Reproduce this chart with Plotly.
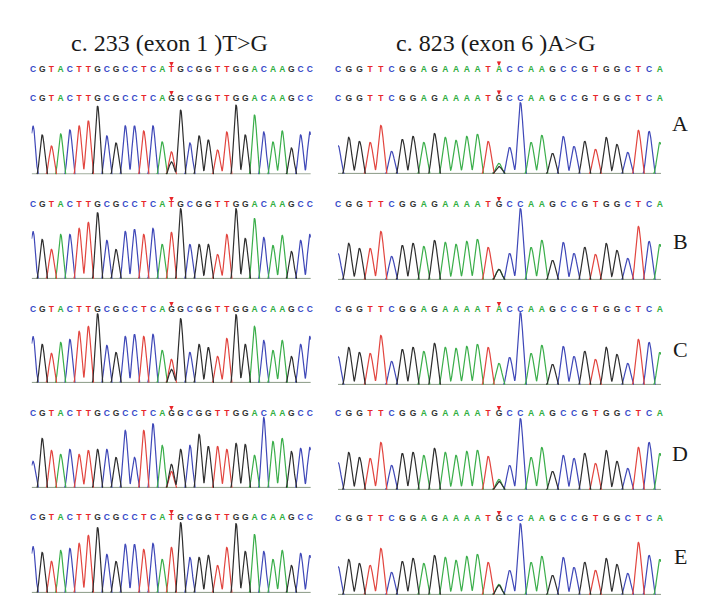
import numpy as np
import plotly.graph_objects as go

W, H = 708, 598

# ---------------- data ----------------
TITLES = ["c. 233 (exon 1 )T>G", "c. 823 (exon 6 )A>G"]
ROW_LABELS = ["A", "B", "C", "D", "E"]
LEFT_REF = "CGTACTTGCGCCTCATGCGGTTGGACAAGCC"
RIGHT_REF = "CGGTTCGGAGAAAATACCAAGCCGTGGCTCA"
MUT_INDEX = 15
LEFT_CALLS = ["G", "T", "G", "G", "T"]    # base called at mutation position per row
RIGHT_CALLS = ["G", "G", "A", "G", "G"]

# peak heights (pixels above baseline), None = mutation position (see *_MUT)
LEFT_A = [48, 39, 28, 40, 44, 48, 53, 68, 38, 31, 48, 48, 43, 48, 32, None, 64, 31, 38, 34, 24, 42, 69, 39, 59, 42, 32, 43, 26, 39, 42]
LEFT_B = [47, 39, 29, 44, 44, 50, 56, 66, 38, 29, 47, 49, 44, 50, 34, None, 70, 34, 34, 34, 24, 44, 70, 40, 60, 41, 33, 43, 27, 38, 44]
LEFT_C = [46, 38, 29, 40, 43, 51, 56, 69, 37, 30, 46, 48, 46, 48, 32, None, 64, 30, 38, 35, 26, 44, 68, 38, 56, 42, 32, 42, 26, 38, 46]
LEFT_D = [26, 49, 37, 33, 38, 33, 37, 38, 38, 30, 57, 30, 57, 64, 42, None, 38, 42, 53, 41, 41, 38, 44, 43, 32, 70, 46, 49, 36, 39, 40]
LEFT_E = [46, 40, 31, 42, 44, 49, 57, 65, 38, 31, 48, 48, 43, 49, 33, None, 70, 35, 35, 37, 27, 45, 69, 41, 58, 41, 33, 42, 27, 39, 37]
LEFT_MUT = [[("T", 22), ("G", 12)], [("T", 46)], [("T", 23), ("G", 13)], [("G", 23), ("T", 16)], [("T", 45)]]

RIGHT_A = [28, 36, 32, 31, 48, 22, 34, 37, 31, 40, 36, 33, 37, 39, 32, None, 26, 71, 31, 38, 20, 37, 27, 32, 24, 36, 29, 21, 43, 42, 31]
RIGHT_B = [26, 36, 31, 31, 48, 23, 34, 36, 33, 39, 37, 35, 38, 40, 32, None, 26, 71, 32, 39, 19, 37, 26, 32, 25, 36, 29, 21, 53, 38, 35]
RIGHT_C = [28, 37, 32, 31, 49, 23, 35, 37, 33, 41, 37, 36, 38, 40, 37, None, 27, 72, 31, 39, 20, 38, 28, 33, 25, 37, 30, 21, 45, 42, 32]
RIGHT_D = [27, 37, 32, 31, 47, 24, 36, 37, 34, 41, 37, 34, 38, 39, 33, None, 24, 71, 32, 42, 18, 34, 31, 36, 26, 39, 28, 21, 42, 47, 36]
RIGHT_E = [28, 35, 31, 29, 46, 22, 33, 36, 31, 39, 37, 34, 38, 40, 32, None, 24, 71, 32, 38, 19, 37, 27, 32, 24, 36, 30, 21, 52, 39, 35]
RIGHT_MUT = [[("A", 10), ("G", 7)], [("A", 10), ("G", 10)], [("A", 21)], [("A", 10), ("G", 8)], [("A", 10), ("G", 9)]]

LEFT_ROWS = [LEFT_A, LEFT_B, LEFT_C, LEFT_D, LEFT_E]
RIGHT_ROWS = [RIGHT_A, RIGHT_B, RIGHT_C, RIGHT_D, RIGHT_E]

# ---------------- style / geometry ----------------
PEAK_COL = {"A": "#3aae4a", "C": "#3f48b8", "G": "#2e2e2e", "T": "#e2453f"}
LETTER_COL = {"A": "#2fae3f", "C": "#3548c8", "G": "#333333", "T": "#e8262b"}
BASELINE_COL = "#8a9a86"

COLS = [
    dict(start=25.0, step=9.23, r0=-0.15, r1=30.1,
         base=[166.5, 271, 375, 480, 585], seq_y=[74, 74, 73, 74, 75]),
    dict(start=330.0, step=10.73, r0=0.0, r1=30.1,
         base=[166, 272, 377, 482, 587], seq_y=[75, 75, 75, 76, 76]),
]
HALF_W = 0.58   # half base-width of a peak, in base positions


def peak(xs, centre, h):
    d = np.abs(xs - centre)
    return np.where(d < HALF_W, h * np.cos(np.pi * d / (2 * HALF_W)) ** 2, 0.0)


fig = go.Figure()
layout_axes = {}
annotations = []
ax_i = 0

for c, col in enumerate(COLS):
    ref = LEFT_REF if c == 0 else RIGHT_REF
    rows = LEFT_ROWS if c == 0 else RIGHT_ROWS
    muts = LEFT_MUT if c == 0 else RIGHT_MUT
    calls = LEFT_CALLS if c == 0 else RIGHT_CALLS
    x0 = col["start"] + col["step"] * col["r0"]
    x1 = col["start"] + col["step"] * col["r1"]
    for r in range(5):
        ax_i += 1
        xa = "x" if ax_i == 1 else f"x{ax_i}"
        ya = "y" if ax_i == 1 else f"y{ax_i}"
        base = col["base"][r]
        hdom = 112 if r == 0 else 88
        top = base - hdom
        layout_axes["xaxis" if ax_i == 1 else f"xaxis{ax_i}"] = dict(
            domain=[x0 / W, x1 / W], range=[col["r0"], col["r1"]], visible=False,
            anchor=ya)
        layout_axes["yaxis" if ax_i == 1 else f"yaxis{ax_i}"] = dict(
            domain=[1 - base / H, 1 - top / H], range=[0, hdom], visible=False,
            anchor=xa)

        xs = np.linspace(col["r0"], col["r1"], 1200)
        # faint mixed baseline
        fig.add_trace(go.Scatter(x=[col["r0"], col["r1"]], y=[0.6, 0.6], mode="lines",
                                 line=dict(color=BASELINE_COL, width=1.0),
                                 xaxis=xa, yaxis=ya, hoverinfo="skip", showlegend=False))
        # peaks
        curves = {b: np.zeros_like(xs) for b in "ACGT"}
        for i, h in enumerate(rows[r]):
            if h is None:
                for b, hh in muts[r]:
                    curves[b] += peak(xs, i, hh)
            else:
                curves[ref[i]] += peak(xs, i, h)
        for b in ["C", "A", "T", "G"]:
            y = curves[b]
            on = y > 0
            keep = on | np.roll(on, 1) | np.roll(on, -1)
            yy = np.where(keep, y + 0.6, np.nan)
            fig.add_trace(go.Scatter(x=xs, y=yy, mode="lines", connectgaps=False,
                                     line=dict(color=PEAK_COL[b], width=1.2),
                                     xaxis=xa, yaxis=ya, hoverinfo="skip",
                                     showlegend=False))

        # sequence lines
        sample = ref[:MUT_INDEX] + calls[r] + ref[MUT_INDEX + 1:]
        if r == 0:
            lines = [(ref, 104.5), (sample, 75.5)]
        else:
            lines = [(sample, col["seq_y"][r])]
        for seq, yv in lines:
            fig.add_trace(go.Scatter(
                x=list(range(len(seq))), y=[yv] * len(seq), mode="text",
                text=list(seq),
                textfont=dict(family="Liberation Sans", size=8.5, weight="bold",
                              color=[LETTER_COL[ch] for ch in seq]),
                cliponaxis=False, xaxis=xa, yaxis=ya, hoverinfo="skip",
                showlegend=False))
            annotations.append(dict(
                x=MUT_INDEX, y=yv + 3.5, xref=xa, yref=ya, text="",
                showarrow=True, ax=0, ay=-6, arrowhead=2, arrowsize=0.8,
                arrowwidth=1.1, arrowcolor="#e8262b", standoff=0))

# titles
for t, xc in zip(TITLES, [161, 488]):
    annotations.append(dict(x=xc / W, y=1 - 35 / H, xref="paper", yref="paper",
                            text=t, showarrow=False, xanchor="center", yanchor="middle",
                            font=dict(family="Liberation Serif", size=24, color="#1a1a1a")))
# row labels
for lab, yc in zip(ROW_LABELS, [116, 233, 341, 446, 548]):
    annotations.append(dict(x=672 / W, y=1 - yc / H, xref="paper", yref="paper",
                            text=lab, showarrow=False, xanchor="center", yanchor="middle",
                            font=dict(family="Liberation Serif", size=22, color="#1a1a1a")))

fig.update_layout(width=W, height=H, margin=dict(l=0, r=0, t=0, b=0),
                  paper_bgcolor="white", plot_bgcolor="white",
                  annotations=annotations, **layout_axes)
fig.write_html("out.html")
